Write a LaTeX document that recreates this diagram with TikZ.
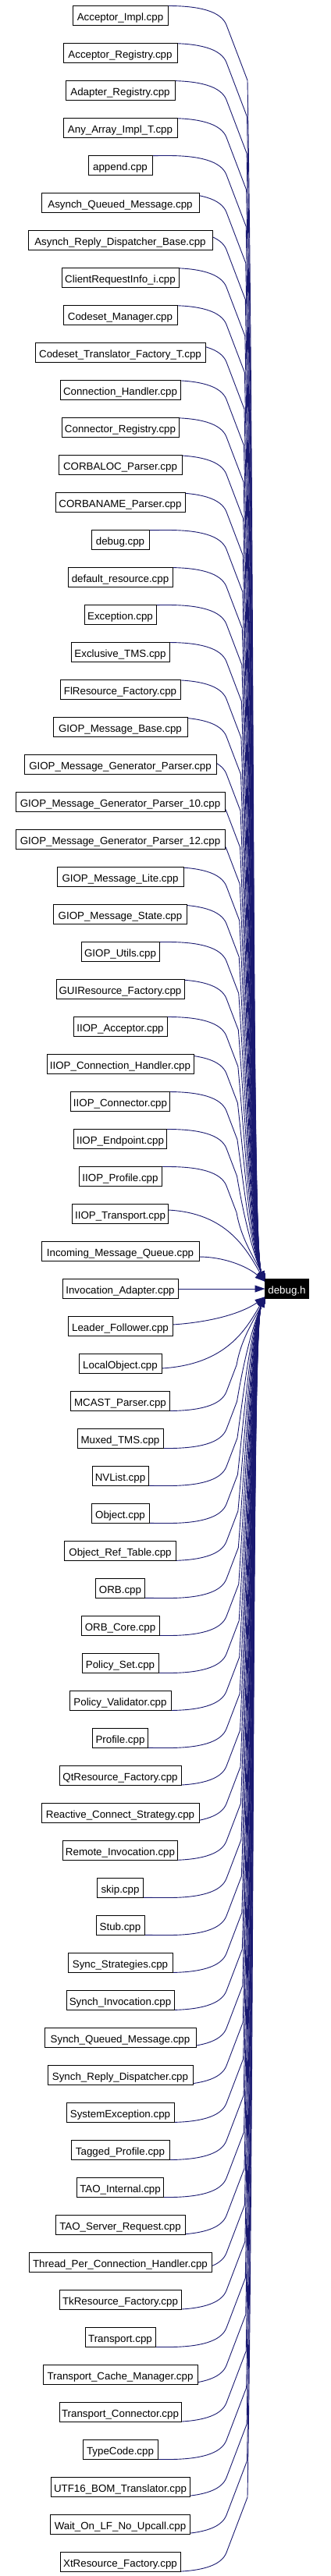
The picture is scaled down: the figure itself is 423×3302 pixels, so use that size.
\documentclass[tikz,border=0pt]{standalone}
\usepackage{fontspec}
\setmainfont{Liberation Sans}
\usetikzlibrary{arrows.meta}
\pgfdeclarelayer{bg}
\pgfsetlayers{bg,main}
\definecolor{edgec}{RGB}{25,25,112}
\begin{document}
\begin{tikzpicture}[x=1pt,y=-1pt,
  fnode/.style={draw=black,line width=1pt,fill=white,inner sep=0pt,outer sep=0pt,
    minimum height=24.5pt,text height=13.8pt,text depth=0pt,
    font=\fontsize{13.33pt}{16pt}\selectfont},
  target/.style={fnode,fill=black,draw=black,text=white},
  edge/.style={draw=edgec,line width=0.9pt,-{Triangle[length=13pt,width=9pt]}}]
\useasboundingbox (0,0) rectangle (423,3302);
\foreach \k/\nm/\bw in {
1/Acceptor\_Impl.cpp/123,
2/Acceptor\_Registry.cpp/147,
3/Adapter\_Registry.cpp/141,
4/Any\_Array\_Impl\_T.cpp/147,
5/append.cpp/83,
6/Asynch\_Queued\_Message.cpp/203,
7/Asynch\_Reply\_Dispatcher\_Base.cpp/237,
8/ClientRequestInfo\_i.cpp/151,
9/Codeset\_Manager.cpp/147,
10/Codeset\_Translator\_Factory\_T.cpp/219,
11/Connection\_Handler.cpp/155,
12/Connector\_Registry.cpp/151,
13/CORBALOC\_Parser.cpp/159,
14/CORBANAME\_Parser.cpp/167,
15/debug.cpp/75,
16/default\_resource.cpp/135,
17/Exception.cpp/93,
18/Exclusive\_TMS.cpp/127,
19/FlResource\_Factory.cpp/155,
20/GIOP\_Message\_Base.cpp/173,
21/GIOP\_Message\_Generator\_Parser.cpp/247,
22/GIOP\_Message\_Generator\_Parser\_10.cpp/269,
23/GIOP\_Message\_Generator\_Parser\_12.cpp/269,
24/GIOP\_Message\_Lite.cpp/163,
25/GIOP\_Message\_State.cpp/172,
26/GIOP\_Utils.cpp/101,
27/GUIResource\_Factory.cpp/165,
28/IIOP\_Acceptor.cpp/121,
29/IIOP\_Connection\_Handler.cpp/189,
30/IIOP\_Connector.cpp/128,
31/IIOP\_Endpoint.cpp/120,
32/IIOP\_Profile.cpp/107,
33/IIOP\_Transport.cpp/124,
34/Incoming\_Message\_Queue.cpp/203,
35/Invocation\_Adapter.cpp/149,
36/Leader\_Follower.cpp/135,
37/LocalObject.cpp/107,
38/MCAST\_Parser.cpp/128,
39/Muxed\_TMS.cpp/111,
40/NVList.cpp/73,
41/Object.cpp/75,
42/Object\_Ref\_Table.cpp/144,
43/ORB.cpp/64,
44/ORB\_Core.cpp/101,
45/Policy\_Set.cpp/99,
46/Policy\_Validator.cpp/131,
47/Profile.cpp/72,
48/QtResource\_Factory.cpp/157,
49/Reactive\_Connect\_Strategy.cpp/203,
50/Remote\_Invocation.cpp/148,
51/skip.cpp/60,
52/Stub.cpp/63,
53/Sync\_Strategies.cpp/135,
54/Synch\_Invocation.cpp/139,
55/Synch\_Queued\_Message.cpp/195,
56/Synch\_Reply\_Dispatcher.cpp/187,
57/SystemException.cpp/139,
58/Tagged\_Profile.cpp/127,
59/TAO\_Internal.cpp/112,
60/TAO\_Server\_Request.cpp/167,
61/Thread\_Per\_Connection\_Handler.cpp/235,
62/TkResource\_Factory.cpp/157,
63/Transport.cpp/91,
64/Transport\_Cache\_Manager.cpp/199,
65/Transport\_Connector.cpp/157,
66/TypeCode.cpp/97,
67/UTF16\_BOM\_Translator.cpp/179,
68/Wait\_On\_LF\_No\_Upcall.cpp/180,
69/XtResource\_Factory.cpp/155}
{
  \node[fnode,minimum width={(\bw-1)*1pt}] (n\k) at ({154},{20+48*(\k-1)}) {\nm};
}
\node[target,minimum width=56pt] (debug) at (367.5,1652) {debug.h};
\begin{pgfonlayer}{bg}
\foreach \k in {1,...,32} {
  \pgfmathsetmacro\cy{20+48*(\k-1)}
  \pgfmathsetmacro\xv{317-0.45*(\k-1)}
  \pgfmathsetmacro\byy{\cy+12+(\xv-290)*71/27}
  \pgfmathsetmacro\LL{1643-\byy}
  \pgfmathsetmacro\ff{min(1,\LL/150)}
  \pgfmathsetmacro\ay{\byy+0.4*\LL}
  \pgfmathsetmacro\ax{\xv+10*\ff}
  \pgfmathsetmacro\bx{339-17*\ff}
  \pgfmathsetmacro\bby{1643-43*\ff}
  \draw[edge] (n\k.north) -- ({215},{\cy-12.5}) .. controls ({255},{\cy-12.5}) and ({283},{\cy-5.75}) .. ({290},{\cy+12}) -- (\xv,\byy) .. controls (\ax,\ay) and (\bx,\bby) .. ([yshift=-3pt]debug.north west);
}
\foreach \k in {38,...,69} {
  \pgfmathsetmacro\cy{20+48*(\k-1)}
  \pgfmathsetmacro\xv{317-0.45*(69-\k)}
  \pgfmathsetmacro\byy{\cy-12-(\xv-290)*71/27}
  \pgfmathsetmacro\LL{\byy-1661}
  \pgfmathsetmacro\ff{min(1,\LL/150)}
  \pgfmathsetmacro\ay{\byy-0.4*\LL}
  \pgfmathsetmacro\ax{\xv+10*\ff}
  \pgfmathsetmacro\bx{339-17*\ff}
  \pgfmathsetmacro\bby{1661+43*\ff}
  \draw[edge] (n\k.south) -- ({215},{\cy+12.5}) .. controls ({255},{\cy+12.5}) and ({283},{\cy+5.75}) .. ({290},{\cy-12}) -- (\xv,\byy) .. controls (\ax,\ay) and (\bx,\bby) .. ([yshift=2pt]debug.south west);
}
\draw[edge] ([yshift=5pt]n33.east) .. controls (290,1555) and (315,1600) .. ([yshift=-3pt]debug.north west);
\draw[edge] ([yshift=-7pt]n34.east) .. controls (285,1611) and (315,1622) .. ([yshift=-3pt]debug.north west);
\draw[edge] (n35.east) -- (debug.west);
\draw[edge] ([yshift=2pt]n36.east) .. controls (280,1694) and (315,1680) .. ([yshift=2pt]debug.south west);
\draw[edge] ([yshift=-6pt]n37.east) .. controls (290,1749) and (315,1704) .. ([yshift=2pt]debug.south west);
\end{pgfonlayer}
\end{tikzpicture}
\end{document}
